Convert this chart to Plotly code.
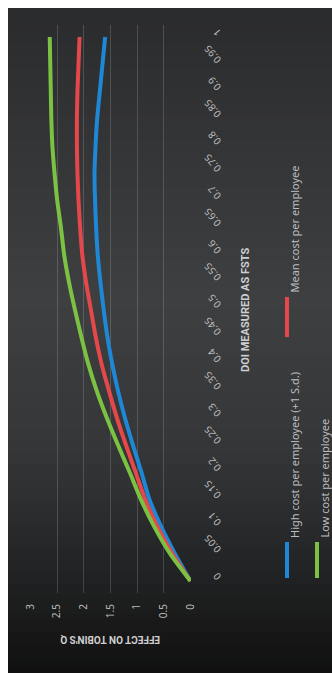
import plotly.graph_objects as go

# DOI (measured as FSTS) categories and the effect on Tobin's Q for three cost levels
doi = [0, 0.05, 0.1, 0.15, 0.2, 0.25, 0.3, 0.35, 0.4, 0.45, 0.5,
       0.55, 0.6, 0.65, 0.7, 0.75, 0.8, 0.85, 0.9, 0.95, 1]
doi_labels = ["0", "0.05", "0.1", "0.15", "0.2", "0.25", "0.3", "0.35", "0.4", "0.45", "0.5",
              "0.55", "0.6", "0.65", "0.7", "0.75", "0.8", "0.85", "0.9", "0.95", "1"]
high_cost = [0, 0.29, 0.55, 0.77, 0.92, 1.08, 1.23, 1.36, 1.47, 1.56, 1.63,
             1.69, 1.74, 1.77, 1.79, 1.80, 1.78, 1.75, 1.70, 1.65, 1.60]
mean_cost = [0, 0.34, 0.62, 0.85, 1.03, 1.21, 1.38, 1.53, 1.67, 1.78, 1.87,
             1.96, 2.03, 2.07, 2.10, 2.12, 2.13, 2.13, 2.12, 2.10, 2.08]
low_cost = [0, 0.38, 0.68, 0.93, 1.14, 1.36, 1.57, 1.76, 1.92, 2.05, 2.17,
            2.28, 2.37, 2.43, 2.50, 2.55, 2.59, 2.61, 2.62, 2.63, 2.64]
q_ticks = [0, 0.5, 1, 1.5, 2, 2.5, 3]
q_labels = ["0", "0.5", "1", "1.5", "2", "2.5", "3"]

series = [
    ("High cost per employee (+1 S.d.)", high_cost, "#1f88d6"),
    ("Mean cost per employee", mean_cost, "#e5484a"),
    ("Low cost per employee", low_cost, "#7cc242"),
]

W, H = 332, 673
ML, MR, MT, MB = 30, 141, 25, 80
PW, PH = W - ML - MR, H - MT - MB


def px(xp):
    return (xp - ML) / PW


def py(yp):
    return (H - MB - yp) / PH


FONT = "Noto Sans"
TXT = "#bdbdbd"

fig = go.Figure()
for name, vals, col in series:
    fig.add_trace(go.Scatter(
        x=vals, y=doi, mode="lines", name=name,
        line=dict(color=col, width=4, shape="spline", smoothing=0.6),
        hoverinfo="skip", showlegend=False,
    ))

# dark panel with a soft vertical gradient, white frame on top and left
stops = [(8, (42, 43, 45)), (120, (50, 51, 53)), (300, (62, 63, 65)),
         (450, (53, 54, 56)), (560, (36, 37, 38)), (673, (16, 16, 16))]


def col_at(y):
    for (y0, c0), (y1, c1) in zip(stops[:-1], stops[1:]):
        if y0 <= y <= y1:
            t = (y - y0) / (y1 - y0)
            return "rgb(%d,%d,%d)" % tuple(round(a + (b - a) * t) for a, b in zip(c0, c1))
    return "rgb(%d,%d,%d)" % stops[-1][1]


shapes = []
band = 6
y = 8
while y < H:
    y2 = min(H, y + band)
    shapes.append(dict(type="rect", xref="paper", yref="paper", layer="below",
                       x0=px(8), x1=px(W), y0=py(y2), y1=py(y),
                       fillcolor=col_at((y + y2) / 2), line=dict(width=0)))
    y = y2

# legend keys
legend_items = [
    (series[0], 287, 542, 578, 294, 540),
    (series[1], 287, 297, 337, 294, 295),
    (series[2], 317, 542, 578, 324, 540),
]
annotations = []
for (name, _, col), kx, ky0, ky1, tx, ty in legend_items:
    shapes.append(dict(type="line", xref="paper", yref="paper", layer="above",
                       x0=px(kx), x1=px(kx), y0=py(ky0), y1=py(ky1),
                       line=dict(color=col, width=4)))
    annotations.append(dict(text=name, xref="paper", yref="paper", x=px(tx), y=py(ty),
                            xanchor="center", yanchor="bottom", textangle=-90,
                            showarrow=False, font=dict(family=FONT, size=11, color=TXT)))

annotations.append(dict(text="<b>DOI MEASURED AS FSTS</b>", xref="paper", yref="paper",
                        x=px(245), y=py(310), xanchor="center", yanchor="middle",
                        textangle=-90, showarrow=False,
                        font=dict(family="Roboto", size=11, color="#cfcfcf")))
annotations.append(dict(text="<b>EFFECT ON TOBIN'S Q</b>", xref="paper", yref="paper",
                        x=px(110), y=py(640), xanchor="center", yanchor="middle",
                        textangle=180, showarrow=False,
                        font=dict(family="Roboto", size=10, color="#cfcfcf")))

fig.update_layout(
    width=W, height=H,
    margin=dict(l=ML, r=MR, t=MT, b=MB, pad=0),
    paper_bgcolor="white", plot_bgcolor="rgba(0,0,0,0)",
    shapes=shapes, annotations=annotations,
    xaxis=dict(range=[3.01, -0.01], tickvals=q_ticks, ticktext=q_labels,
               tickangle=-90, showgrid=True, gridcolor="rgba(255,255,255,0.16)",
               gridwidth=1, zeroline=False, showline=False, ticks="",
               ticklabelstandoff=8,
               tickfont=dict(family=FONT, size=10, color=TXT), fixedrange=True),
    yaxis=dict(range=[-0.022, 1.022], tickvals=doi, ticktext=doi_labels,
               side="right", tickangle=-130, showgrid=False, zeroline=False,
               showline=False, ticks="", ticklabelstandoff=26,
               tickfont=dict(family=FONT, size=10, color=TXT), fixedrange=True),
)

fig.write_html("out.html")
